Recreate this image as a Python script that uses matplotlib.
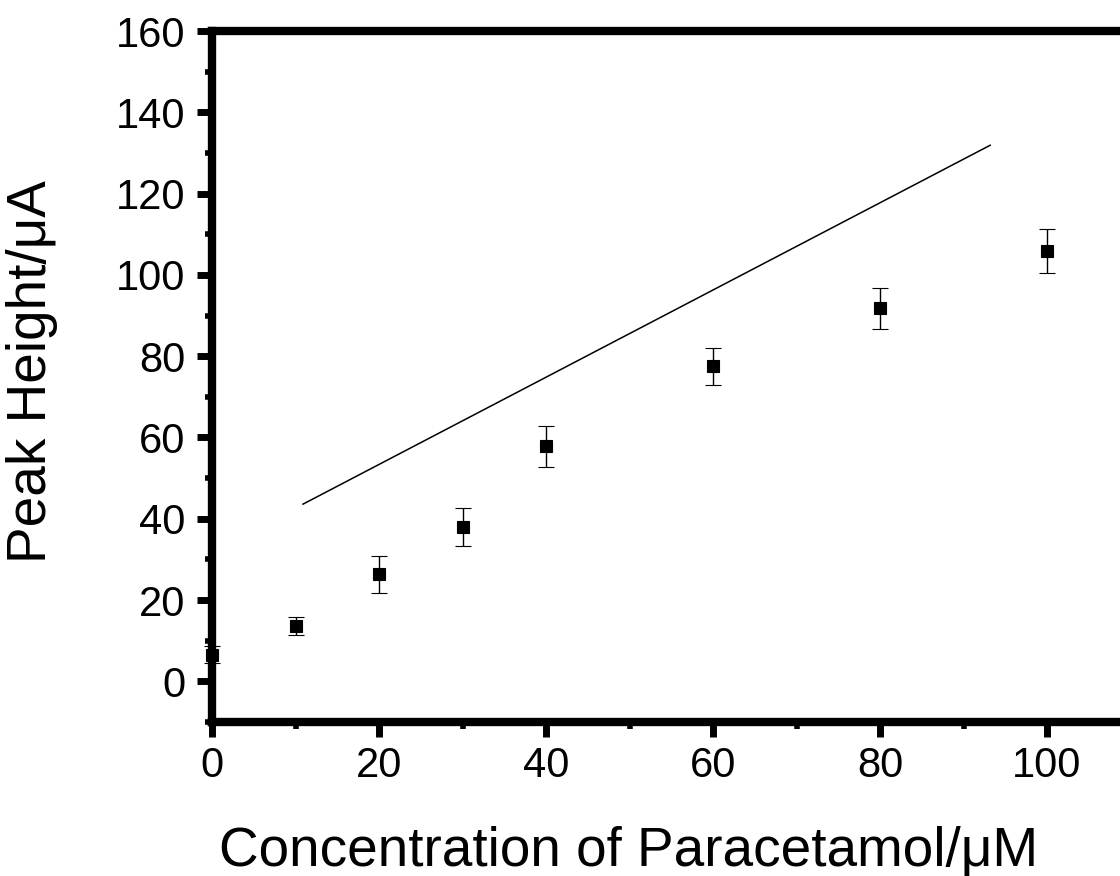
import numpy as np
import matplotlib.pyplot as plt
from matplotlib.ticker import MultipleLocator

plt.rcParams['font.family'] = ['Liberation Sans', 'DejaVu Sans']

# measured peak heights with error bars
conc = [0, 10, 20, 30, 40, 60, 80, 100]
peak = [6.6, 13.6, 26.3, 37.9, 57.8, 77.5, 91.8, 105.9]
err = [2.2, 2.2, 4.5, 4.7, 5.0, 4.5, 5.0, 5.5]

# straight line drawn across the plot
line_x = [10.9, 93.2]
line_y = [43.6, 131.9]

fig = plt.figure(figsize=(11.2, 8.76), dpi=100)
ax = fig.add_axes([212 / 1120, (876 - 722) / 876, 918.5 / 1120, (722 - 31) / 876])

ax.plot(line_x, line_y, color='black', linewidth=1.1)
ax.errorbar(conc, peak, yerr=err, fmt='s', color='black', markersize=8.5,
            markeredgewidth=0.8, ecolor='black', elinewidth=1.0, capsize=6,
            capthick=1.2, clip_on=False)

ax.set_xlim(0, 110)
ax.set_ylim(-10, 160)
ax.xaxis.set_major_locator(MultipleLocator(20))
ax.xaxis.set_minor_locator(MultipleLocator(10))
ax.yaxis.set_major_locator(MultipleLocator(20))
ax.yaxis.set_minor_locator(MultipleLocator(10))
ax.set_yticks(np.arange(0, 161, 20))

for s in ax.spines.values():
    s.set_linewidth(6)
ax.spines['right'].set_visible(False)

ax.tick_params(which='major', direction='out', length=11, width=5, labelsize=30, pad=6)
ax.tick_params(which='minor', direction='out', length=5, width=4)
ax.tick_params(axis='y', pad=8)

# axis titles placed where they sit in the original
fig.text(629 / 1120, (876 - 865) / 876, 'Concentration of Paracetamol/μM',
         fontsize=39.5, ha='center', va='baseline')
fig.text(32 / 1120, (876 - 372) / 876, 'Peak Height/μA',
         fontsize=39.5, rotation=90, ha='center', va='center')

fig.savefig('out.png', dpi=100)
